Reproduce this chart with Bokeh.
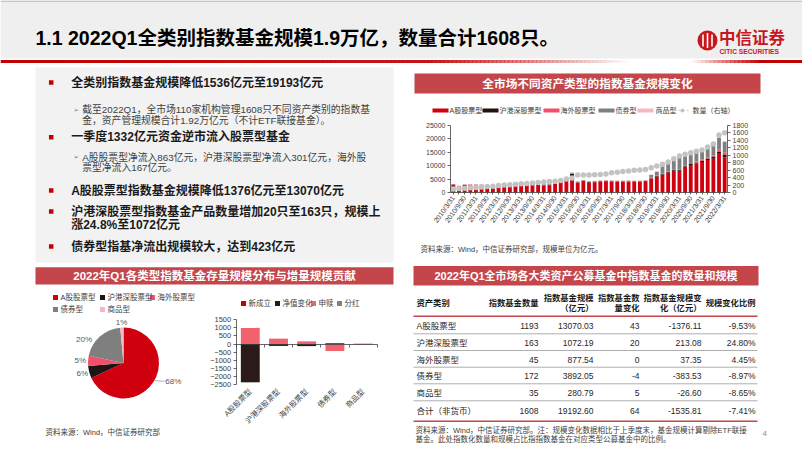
import numpy as np
from math import pi
from bokeh.plotting import figure
from bokeh.models import Range1d, ColumnDataSource, LinearAxis, FixedTicker
from bokeh.core.properties import value
from bokeh.embed import file_html
from bokeh.resources import INLINE

FONT = "Liberation Sans, Noto Sans CJK SC"

# ---------------- data ----------------
slide_title = "1.1 2022Q1全类别指数基金规模1.9万亿，数量合计1608只。"

quarters = [f"{y}/{md}" for y in range(2010, 2023) for md in ("3/31", "6/30", "9/30", "12/31")][:49]
series_names = ["A股股票型", "沪港深股票型", "海外股票型", "债券型", "商品型"]
a_stock = [3000, 2380, 2850, 2850, 2850, 2800, 2350, 2100, 2200, 2300,
           2300, 2600, 2800, 2850, 3000, 2800, 2700, 2750, 3300, 3900,
           4500, 5500, 3500, 4000, 3700, 3800, 4000, 4100, 4050, 3950,
           3950, 4000, 3950, 3950, 4150, 5200, 6000, 6700, 7500, 8100,
           8100, 9500, 10300, 10800, 11400, 12100, 12600, 14446.14, 13070.03]
hk_stock = [0, 0, 0, 0, 0, 0, 0, 0, 0, 0,
            0, 30, 40, 40, 40, 40, 40, 40, 50, 60,
            80, 1500, 250, 300, 200, 200, 200, 200, 150, 150,
            150, 150, 120, 120, 100, 120, 150, 170, 200, 250,
            280, 300, 350, 400, 480, 560, 650, 859.11, 1072.19]
overseas = [80, 80, 90, 110, 120, 120, 110, 110, 110, 120,
            120, 130, 140, 140, 140, 140, 140, 140, 140, 140,
            150, 200, 150, 160, 150, 150, 150, 150, 150, 150,
            150, 150, 150, 150, 150, 150, 200, 220, 250, 280,
            300, 330, 350, 380, 420, 480, 560, 840.19, 877.54]
bond = [60, 60, 60, 60, 60, 80, 120, 150, 200, 600,
        600, 550, 550, 500, 450, 400, 350, 300, 280, 250,
        250, 200, 200, 200, 150, 150, 150, 150, 150, 150,
        150, 150, 150, 200, 150, 1100, 1400, 2750, 3200, 3700,
        4600, 4200, 3800, 3600, 3300, 3650, 3900, 4275.58, 3892.05]
commodity = [0, 0, 0, 0, 0, 0, 0, 0, 0, 0,
             0, 0, 0, 100, 150, 150, 150, 150, 140, 130,
             120, 150, 120, 120, 100, 100, 100, 100, 110, 110,
             110, 110, 120, 130, 150, 180, 200, 250, 250, 270,
             300, 320, 330, 330, 310, 300, 300, 307.39, 280.79]
fund_count_ts = [95, 105, 115, 125, 135, 145, 160, 170, 185, 200,
                 210, 220, 235, 245, 255, 270, 285, 295, 305, 320,
                 360, 390, 470, 470, 470, 475, 485, 500, 530, 545,
                 565, 580, 595, 605, 620, 665, 710, 760, 820, 905,
                 980, 1025, 1070, 1105, 1145, 1225, 1300, 1544, 1608]
left_ticks = [0, 5000, 10000, 15000, 20000, 25000]
right_ticks = [0, 200, 400, 600, 800, 1000, 1200, 1400, 1600, 1800]

table_cats = ["A股股票型", "沪港深股票型", "海外股票型", "债券型", "商品型", "合计（非货币）"]
fund_num = [1193, 163, 45, 172, 35, 1608]
fund_scale = [13070.03, 1072.19, 877.54, 3892.05, 280.79, 19192.60]
num_change = [43, 20, 0, -4, 5, 64]
scale_change = [-1376.11, 213.08, 37.35, -383.53, -26.60, -1535.81]
change_ratio = [-9.53, 24.80, 4.45, -8.97, -8.65, -7.41]

contrib_names = ["新成立", "净值变化", "申赎", "分红"]
new_fund = [0, 0, 0, 0, 0]
nav_change = [-2360, -120, -130, 45, 13]
net_flow = [995, 330, 165, -430, -40]
dividend = [-10, -2, 0, -5, 0]
contrib_ticks = [-2500, -2000, -1500, -1000, -500, 0, 500, 1000, 1500]

bullets = ["全类别指数基金规模降低1536亿元至19193亿元",
           "一季度1332亿元资金逆市流入股票型基金",
           "A股股票型指数基金规模降低1376亿元至13070亿元",
           "沪港深股票型指数基金产品数量增加20只至163只，规模上",
           "涨24.8%至1072亿元",
           "债券型指基净流出规模较大，达到423亿元"]
sub_lines = ["截至2022Q1，全市场110家机构管理1608只不同资产类别的指数基",
             "金，资产管理规模合计1.92万亿元（不计ETF联接基金）。",
             "A股股票型净流入863亿元，沪港深股票型净流入301亿元，海外股",
             "票型净流入167亿元。"]

# ---------------- style ----------------
SER_COL = ["#d0000f", "#1e1414", "#f0506a", "#7f7f7f", "#f6b8c0"]
CNT_COL = "#c3c3c3"
CON_COL = ["#c00000", "#2a1a1a", "#f3606e", "#808080"]
BAR_RED = "#c4464b"
AX = "#404040"
W, H = 802, 451

p = figure(width=W, height=H, x_range=Range1d(0, W), y_range=Range1d(H, 0),
           x_axis_type=None, y_axis_type=None, output_backend="svg",
           toolbar_location=None, min_border=0)
p.outline_line_color = None


def xr(v0, x0, v1, x1):
    span = (v1 - v0) * W / (x1 - x0)
    s = v0 - span * x0 / W
    return Range1d(s, s + span)


def yr(v0, y0, v1, y1):
    span = (v1 - v0) * H / (y0 - y1)
    e = v1 + span * y1 / H
    return Range1d(e - span, e)


# chart sub-areas mapped through the figure's own scales
p.extra_x_ranges = {"tq": xr(-0.5, 450, 48.5, 727),
                    "cq": xr(-0.5, 235.7, 4.5, 376.7),
                    "px": xr(0, 123, 1, 158.5)}
p.extra_y_ranges = {"tv": yr(0, 192, 25000, 125),
                    "tc": yr(0, 192, 1800, 125),
                    "cv": yr(0, 343.5, 1500, 319.2),
                    "py": yr(0, 362.5, 1, 327)}


def txt(xs, ys, texts, size, color="#262626", bold=False, align="left", font=FONT):
    p.text(x=xs, y=ys, text=texts, text_font=value(font), text_font_size=size,
           text_color=color, text_font_style="bold" if bold else "normal",
           text_align=align, text_baseline="middle")


def style_axis(ax, size):
    ax.major_label_text_font = FONT
    ax.major_label_text_font_size = size
    ax.major_label_text_color = AX
    ax.axis_line_color = AX
    ax.axis_line_width = 0.8
    ax.major_tick_line_color = AX
    ax.major_tick_line_width = 0.8
    ax.major_tick_out = 3
    ax.major_tick_in = 0
    ax.minor_tick_line_color = None
    ax.major_label_standoff = 2


# ---------------- header ----------------
p.quad(left=[0], right=[W], top=[0], bottom=[58], fill_color="#efefef", line_color=None)
p.segment(x0=[0], y0=[0.6], x1=[W], y1=[0.6], line_color="#b8b8b8", line_width=1.2)
gx = np.linspace(0, W, 200)
gm = (gx[:-1] + gx[1:]) / 2
alpha = np.interp(gm, [0, 430, 630, 690, 760, W], [1, 0.9, 0, 0, 1, 1])
p.quad(left=gx[:-1], right=gx[1:] + 0.6, top=59.5, bottom=62.5, fill_color="#c00000",
       fill_alpha=alpha, line_color=None)
txt([35], [37], [slide_title], "19.5px", "#000000", bold=True)
p.circle(x=[707], y=[40], radius=10, fill_color="#c8161d", line_color=None)
p.segment(x0=[702.5, 707, 711.5], y0=[34, 32.5, 34], x1=[702.5, 707, 711.5], y1=[46, 47.5, 46],
          line_color="white", line_width=1.6)
txt([718.5], [36], ["中信证券"], "16.5px", "#c8161d", bold=True, font="Noto Sans CJK SC")
txt([719], [50.5], ["CITIC SECURITIES"], "6.7px", "#c8161d", bold=True)

# ---------------- left text block ----------------
p.quad(left=[35], right=[393], top=[67], bottom=[262], fill_color="#f2f2f2", line_color=None)
p.scatter(x=[50.7] * 5, y=[82, 136.7, 190, 211, 246], marker="square", size=4.5,
          fill_color="#c00000", line_color=None)
txt([70.7] * len(bullets), [82, 136.7, 190, 211, 224.3, 246], bullets, "12px", "#1a1a1a", bold=True)
txt([73, 73], [109, 156.7], ["➢", "➢"], "6.5px", "#808080", font="DejaVu Sans")
txt([81.7] * 4, [109, 119.5, 156.7, 167.2], sub_lines, "9.8px", "#404040")

# ---------------- panel title bars ----------------
p.quad(left=[35, 414, 413], right=[393, 760, 758], top=[266.7, 73, 265.5], bottom=[284, 93, 285],
       fill_color=BAR_RED, line_color=None)
txt([214], [275.5], ["2022年Q1各类型指数基金存量规模分布与增量规模贡献"], "11.5px", "white", bold=True, align="center")
txt([587], [83], ["全市场不同资产类型的指数基金规模变化"], "11.7px", "white", bold=True, align="center")
txt([585.5], [275.5], ["2022年Q1全市场各大类资产公募基金中指数基金的数量和规模"], "11px", "white",
    bold=True, align="center")

# ---------------- pie ----------------
vals = np.array(fund_scale[:5])
share = vals / vals.sum()
cum = np.concatenate([[0], np.cumsum(share)])
start = pi / 2 - cum[:-1] * 2 * pi
end = pi / 2 - cum[1:] * 2 * pi
psrc = ColumnDataSource(dict(start=start, end=end, color=SER_COL, name=series_names))
p.wedge(x=0, y=0, radius=1, start_angle="start", end_angle="end", direction="clock",
        fill_color="color", line_color=None, source=psrc, x_range_name="px", y_range_name="py")
lab_r = [1.5, 1.2, 1.22, 1.3, 1.15]
lab_shift = np.radians([12, 0, 0, 17, 0])
mid_ang = (start + end) / 2 + lab_shift
p.text(x=np.cos(mid_ang) * lab_r, y=np.sin(mid_ang) * lab_r,
       text=[f"{round(s * 100)}%" for s in share], text_font=value(FONT),
       text_font_size="8px", text_color="#595959", text_align="center", text_baseline="middle",
       x_range_name="px", y_range_name="py")
a0 = (start[0] + end[0]) / 2
p.segment(x0=[np.cos(a0 + 0.05)], y0=[np.sin(a0 + 0.05)], x1=[np.cos(a0 + 0.15) * 1.27],
          y1=[np.sin(a0 + 0.15) * 1.27], line_color="#8c8c8c", line_width=0.7,
          x_range_name="px", y_range_name="py")
# pie legend
pl_x = [55, 102, 152, 55, 102]
pl_y = [297, 297, 297, 309, 309]
p.scatter(x=pl_x, y=pl_y, marker="square", size=5, fill_color=SER_COL, line_color=None)
txt([x + 5 for x in pl_x], pl_y, series_names, "7.5px", AX)

# ---------------- contribution bars ----------------
cidx = list(range(len(series_names)))
pos = np.zeros(5)
neg = np.zeros(5)
for vals_c, col in zip([new_fund, nav_change, net_flow, dividend], CON_COL):
    v = np.array(vals_c, float)
    bottom = np.where(v >= 0, pos, neg)
    top = bottom + v
    pos = np.where(v >= 0, top, pos)
    neg = np.where(v < 0, top, neg)
    p.vbar(x=cidx, bottom=bottom, top=top, width=0.67, fill_color=col, line_color=None,
           x_range_name="cq", y_range_name="cv")
cy_ax = LinearAxis(x_range_name="cq", y_range_name="cv", fixed_location=-0.5, bounds=(-2500, 1500),
                   ticker=FixedTicker(ticks=contrib_ticks))
style_axis(cy_ax, "7.5px")
p.add_layout(cy_ax, "left")
bounds_ticks = [i - 0.5 for i in range(len(series_names) + 1)]
c0_ax = LinearAxis(x_range_name="cq", y_range_name="cv", fixed_location=0, bounds=(-0.5, 4.5),
                   ticker=FixedTicker(ticks=bounds_ticks),
                   major_label_overrides={t: "" for t in bounds_ticks})
style_axis(c0_ax, "7.5px")
p.add_layout(c0_ax, "below")
cx_ax = LinearAxis(x_range_name="cq", y_range_name="cv", fixed_location=-2500, bounds=(-0.5, 4.5),
                   ticker=FixedTicker(ticks=cidx),
                   major_label_overrides={i: n for i, n in enumerate(series_names)})
style_axis(cx_ax, "7.5px")
cx_ax.axis_line_color = None
cx_ax.major_tick_line_color = None
cx_ax.major_label_orientation = pi / 4
cx_ax.major_label_standoff = 3
p.add_layout(cx_ax, "below")
cl_x = [243, 277, 313, 339]
p.scatter(x=cl_x, y=[303] * 4, marker="square", size=5, fill_color=CON_COL, line_color=None)
txt([x + 5 for x in cl_x], [303] * 4, contrib_names, "7.5px", AX)
txt([45], [432], ["资料来源：Wind，中信证券研究部"], "7.5px", AX)

# ---------------- right top chart ----------------
idx = list(range(len(quarters)))
src = ColumnDataSource(dict(x=idx, a=a_stock, h=hk_stock, o=overseas, b=bond, c=commodity, n=fund_count_ts))
p.vbar_stack(["a", "h", "o", "b", "c"], x="x", width=0.68, color=SER_COL, line_color=None, source=src,
             x_range_name="tq", y_range_name="tv")
p.scatter(x="x", y="n", size=5.5, fill_color=CNT_COL, line_color=None, source=src,
          x_range_name="tq", y_range_name="tc")
lax = LinearAxis(x_range_name="tq", y_range_name="tv", fixed_location=-0.5, bounds=(0, 25000),
                 ticker=FixedTicker(ticks=left_ticks))
rax = LinearAxis(x_range_name="tq", y_range_name="tc", fixed_location=48.5, bounds=(0, 1800),
                 ticker=FixedTicker(ticks=right_ticks))
bax = LinearAxis(x_range_name="tq", y_range_name="tv", fixed_location=0, bounds=(-0.5, 48.5),
                 ticker=FixedTicker(ticks=idx),
                 major_label_overrides={i: (q if i % 2 == 0 else "") for i, q in enumerate(quarters)})
for ax in (lax, rax, bax):
    style_axis(ax, "7px")
bax.major_tick_out = 2
bax.major_label_orientation = 0.95
p.add_layout(lax, "left")
p.add_layout(rax, "right")
p.add_layout(bax, "below")
leg_mx = [432, 482, 543, 598, 637]
leg_tx = [449, 499, 560, 615, 655]
p.quad(left=leg_mx, right=[x + 16 for x in leg_mx], top=108, bottom=112, fill_color=SER_COL, line_color=None)
txt(leg_tx, [110] * 5, series_names, "7px", AX)
p.segment(x0=[674], y0=[110], x1=[690], y1=[110], line_color=CNT_COL, line_width=0.8, line_dash="2 2")
p.scatter(x=[682], y=[110], size=4, fill_color=CNT_COL, line_color=None)
txt([692], [110], ["数量（右轴）"], "7px", AX)
txt([420], [249], ["资料来源：Wind，中信证券研究部，规模单位为亿元。"], "7.5px", AX)

# ---------------- table ----------------
col_right = [538, 593, 639, 701, 755]
head_lines = [["指数基金数量"], ["指数基金规模", "（亿元）"], ["指数基金数", "量变化"],
              ["指数基金规模变", "化（亿元）"], ["规模变化比例"]]
hx, hy, ht = [], [], []
for xr_, lines in zip(col_right, head_lines):
    ys = [302] if len(lines) == 1 else [297, 307.5]
    for yy, t in zip(ys, lines):
        hx.append(xr_)
        hy.append(yy)
        ht.append(t)
txt([416], [302], ["资产类别"], "8.3px", "#1a1a1a", bold=True)
txt(hx, hy, ht, "8.3px", "#1a1a1a", bold=True, align="right")
row_y = [325.7, 342.3, 359, 375.7, 392.3, 410.7]
cols = [[str(v) for v in fund_num], [f"{v:.2f}" for v in fund_scale], [str(v) for v in num_change],
        [f"{v:.2f}" for v in scale_change], [f"{v:.2f}%" for v in change_ratio]]
txt([416] * 6, row_y, table_cats, "8.5px", "#262626")
tx_, ty_, tt_ = [], [], []
for xr_, colvals in zip(col_right, cols):
    for yy, t in zip(row_y, colvals):
        tx_.append(xr_)
        ty_.append(yy)
        tt_.append(t)
txt(tx_, ty_, tt_, "8.5px", "#262626", align="right")
sep_y = [333.3, 350, 366.7, 383.3, 400.3]
p.segment(x0=[413] * 5, y0=sep_y, x1=[757] * 5, y1=sep_y, line_color="#8c8c8c", line_width=0.7)
p.segment(x0=[413, 413], y0=[315.7, 420.7], x1=[757, 757], y1=[315.7, 420.7], line_color=BAR_RED, line_width=1.4)
txt([415, 415], [429.5, 438.5],
    ["资料来源：Wind，中信证券研究部。注：规模变化数据相比于上季度末，基金规模计算剔除ETF联接",
     "基金。此处指数化数量和规模占比指指数基金在对应类型公募基金中的比例。"], "7.5px", AX)
txt([762], [433], ["4"], "8px", "#8c8c8c")

open("out.html", "w").write(file_html(p, INLINE))
